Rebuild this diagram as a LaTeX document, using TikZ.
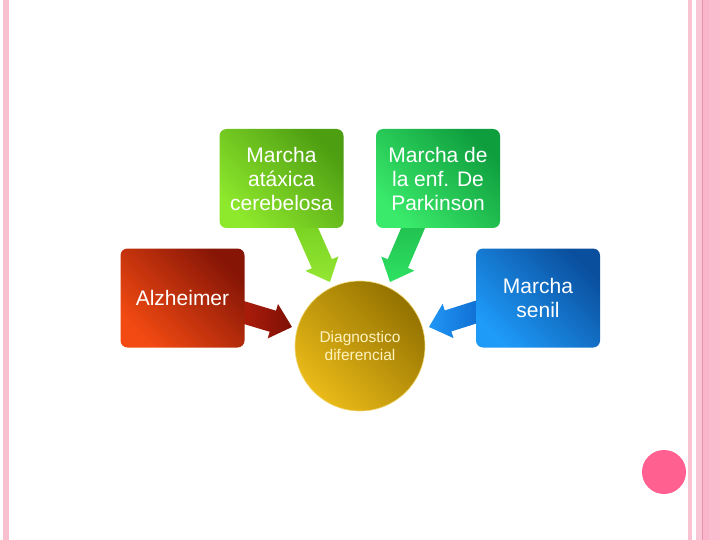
\documentclass[tikz,border=0pt]{standalone}
\usepackage{fontspec}
\setmainfont{Liberation Sans}
\usetikzlibrary{calc}
\pgfdeclarelayer{bg}
\pgfsetlayers{bg,main}
\definecolor{cerD}{HTML}{4E9E12}
\definecolor{cerL}{HTML}{8EE82C}
\definecolor{parkD}{HTML}{0F9E3E}
\definecolor{parkL}{HTML}{3AEA6A}
\definecolor{alzD}{HTML}{861506}
\definecolor{alzL}{HTML}{F24A12}
\definecolor{senD}{HTML}{0A4F9E}
\definecolor{senL}{HTML}{1E9AF8}
\definecolor{goldD}{HTML}{937200}
\definecolor{goldL}{HTML}{EABA18}
\definecolor{goldEdge}{HTML}{F2D870}
\definecolor{diagText}{HTML}{FFF4C0}
\definecolor{pinkA}{HTML}{F8BFCE}
\definecolor{pinkB}{HTML}{F8C2D1}
\definecolor{pinkC}{HTML}{F8C6D4}
\definecolor{pinkLine}{HTML}{E68FB0}
\definecolor{pinkD}{HTML}{FBB5CA}
\definecolor{pinkE}{HTML}{FCBCD0}
\definecolor{dotPink}{HTML}{FF6090}
\newcommand\blkarrow[4]{% #1 name, #2 start, #3 tip, #4 shading
  \coordinate (#1b) at ($(#3)!20pt!(#2)$);
  \shade[#4] ($(#2)!11pt!90:(#3)$) -- ($(#1b)!11pt!90:(#3)$) -- ($(#1b)!18pt!90:(#3)$)
    -- (#3) -- ($(#1b)!18pt!-90:(#3)$) -- ($(#1b)!11pt!-90:(#3)$) -- ($(#2)!11pt!-90:(#3)$) -- cycle;
}
\begin{document}
\begin{tikzpicture}[x=1pt,y=-1pt,
  box/.style={rectangle, rounded corners=7pt, minimum width=124pt, minimum height=99pt,
    inner sep=0pt, align=center, text=white, font=\fontsize{21}{24}\selectfont},
  diagnode/.style={circle, minimum size=130pt, inner sep=0pt, align=center,
    draw=goldEdge, line width=0.6pt, text=diagText, font=\fontsize{15.5}{18}\selectfont}
]
\useasboundingbox (0,0) rectangle (720,540);
\begin{pgfonlayer}{bg}
\fill[white] (0,0) rectangle (720,540);
\end{pgfonlayer}
% decorative stripes
\fill[pinkA] (3,0) rectangle (9,540);
\fill[pinkB] (688,0) rectangle (692,540);
\fill[pinkC] (696,0) rectangle (702,540);
\fill[pinkLine] (702,0) rectangle (703.2,540);
\fill[pinkD] (703.2,0) rectangle (709,540);
\fill[pinkE] (709,0) rectangle (720,540);
\fill[dotPink] (664,472) circle (22);
% nodes
\node[box, top color=cerD, bottom color=cerL, shading angle=-45] (cer) at (281.5,178.5) {Marcha\\atáxica\\cerebelosa};
\node[box, top color=parkD, bottom color=parkL, shading angle=-45] (park) at (438,178.5) {Marcha de\\la enf. De\\Parkinson};
\node[box, top color=alzD, bottom color=alzL, shading angle=-45] (alz) at (182.5,298) {Alzheimer};
\node[box, top color=senD, bottom color=senL, shading angle=-45] (sen) at (538,298) {Marcha\\senil};
\node[diagnode, top color=goldD, bottom color=goldL, shading angle=-45] (diag) at (360,346) {Diagnostico\\diferencial};
% arrows
\coordinate (s1) at ($(cer.south)+(18.5,-14)$);
\coordinate (t1) at ($(diag.center)+(-30,-64)$);
\coordinate (s2) at ($(park.south)+(-19,-14)$);
\coordinate (t2) at ($(diag.center)+(30,-64)$);
\coordinate (s3) at ($(alz.east)+(-12.5,11)$);
\coordinate (t3) at ($(diag.center)+(-68,-19)$);
\coordinate (s4) at ($(sen.west)+(13,10)$);
\coordinate (t4) at ($(diag.center)+(69,-19)$);
\begin{pgfonlayer}{bg}
\blkarrow{a1}{s1}{t1}{top color={rgb,255:red,114;green,206;blue,30}, bottom color={rgb,255:red,148;green,230;blue,50}}
\blkarrow{a2}{s2}{t2}{top color={rgb,255:red,30;green,184;blue,76}, bottom color={rgb,255:red,46;green,226;blue,98}}
\blkarrow{a3}{s3}{t3}{left color={rgb,255:red,184;green,32;blue,12}, right color={rgb,255:red,126;green,16;blue,6}}
\blkarrow{a4}{s4}{t4}{left color={rgb,255:red,32;green,150;blue,246}, right color={rgb,255:red,12;green,100;blue,200}}
\end{pgfonlayer}
\end{tikzpicture}
\end{document}
